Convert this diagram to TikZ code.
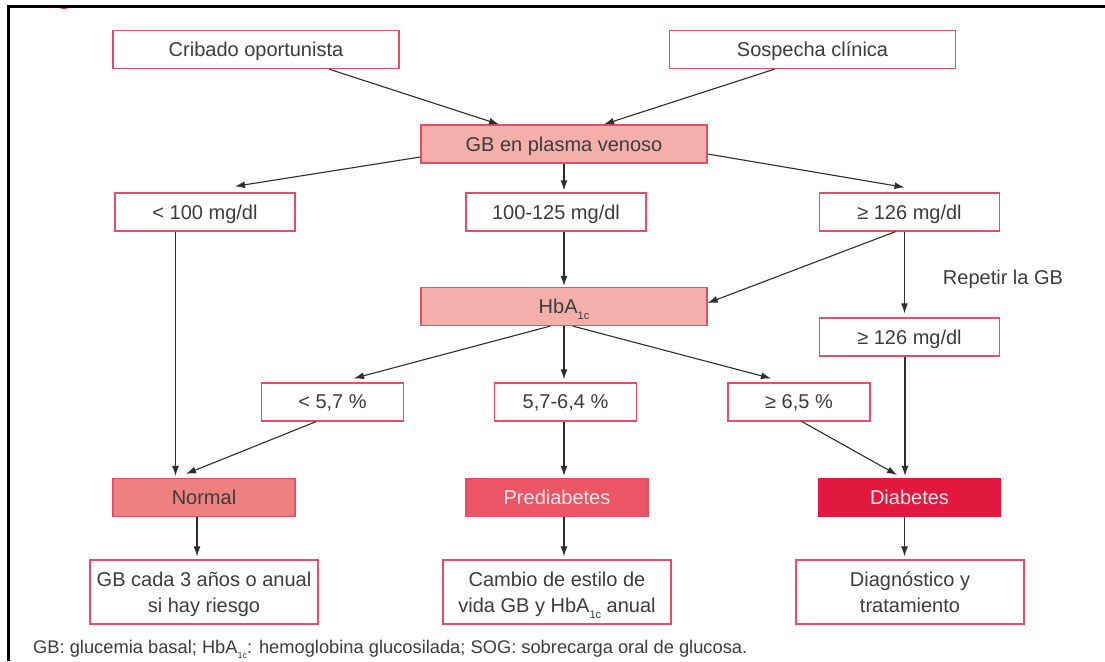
\documentclass[tikz,border=0pt]{standalone}
\usepackage{fontspec}
\setmainfont{Liberation Sans}
\usepackage{xcolor}
\usetikzlibrary{positioning, arrows.meta}

\definecolor{boxred}{HTML}{E84C6B}
\definecolor{lightfill}{HTML}{F4AFAB}
\definecolor{normfill}{HTML}{EF8080}
\definecolor{prefill}{HTML}{EB5565}
\definecolor{diafill}{HTML}{E3183E}
\definecolor{txtgray}{HTML}{3C3C3C}
\definecolor{lighttxt}{HTML}{FCE6EA}
\definecolor{arrgray}{HTML}{2E2E2E}

\newcommand{\hba}[1][11]{HbA\raisebox{-0.3em}{\fontsize{#1}{#1}\selectfont 1c}}

\begin{document}
\begin{tikzpicture}[
  x=1pt, y=-1pt,
  box/.style={
    draw=boxred,
    line width=1.3pt,
    minimum height=38pt,
    minimum width=180pt,
    inner sep=2pt,
    text depth=0pt,
    align=center,
    text=txtgray,
    font=\fontsize{20}{26}\selectfont
  },
  wide/.style={box, minimum width=286pt},
  small/.style={box, minimum width=142pt},
  res/.style={box, minimum width=228pt, minimum height=64pt},
  arr/.style={-{Latex[length=10pt,width=7pt]}, line width=1.1pt, draw=arrgray}
]

\useasboundingbox (0,0) rectangle (1105,661);

% frame of the page
\begin{scope}
  \clip (0,6) rectangle (1105,661);
  \fill[diafill] (64,-4) circle (13);
\end{scope}
\draw[line width=3pt] (8.5,661) -- (8.5,6.5) -- (1105,6.5);

\node[wide] (crib) at (256,49.5) {Cribado oportunista};
\node[wide] (sosp) at (812.5,49.5) {Sospecha clínica};
\node[wide, fill=lightfill] (gb) at (564,144) {GB en plasma venoso};

\node[box] (lo) at (205,212) {< 100 mg/dl};
\node[box] (mid) at (556,212) {100-125 mg/dl};
\node[box] (hi) at (909.5,212) {≥ 126 mg/dl};

\node[wide, fill=lightfill] (hba) at (564,306.5) {\hba};
\node[box] (hi2) at (909.5,337) {≥ 126 mg/dl};
\node[text=txtgray, font=\fontsize{20}{24}\selectfont] (rep) at (1003,279) {Repetir la GB};

\node[small] (a1) at (332.5,402) {< 5,7 \%};
\node[small] (a2) at (565.5,402) {5,7-6,4 \%};
\node[small] (a3) at (799,402) {≥ 6,5 \%};

\node[box, minimum width=182pt, fill=normfill] (normal) at (204,497.5) {Normal};
\node[box, minimum width=182pt, fill=prefill, text=lighttxt] (pre) at (557,497.5) {Prediabetes};
\node[box, minimum width=182pt, fill=diafill, draw=diafill, text=lighttxt] (dia) at (909.5,497.5) {Diabetes};

\node[res] (r1) at (204,592) {GB cada 3 años o anual\\si hay riesgo};
\node[res] (r2) at (557,592) {Cambio de estilo de\\vida GB y \hba\ anual};
\node[res] (r3) at (910,592) {Diagnóstico y\\tratamiento};

\node[anchor=base west, inner sep=0pt, text=txtgray, font=\fontsize{18.3}{21}\selectfont] (foot) at (33,653.5)
  {GB: glucemia basal; \hba[9]: hemoglobina glucosilada; SOG: sobrecarga oral de glucosa.};

% connectors
\draw[arr] ([xshift=73pt]crib.south) -- ([xshift=-65pt]gb.north);
\draw[arr] ([xshift=-38pt]sosp.south) -- ([xshift=40pt]gb.north);
\draw[arr] ([yshift=-13pt]gb.west) -- ([xshift=30pt,yshift=6pt]lo.north);
\draw[arr, shorten >=2pt] (gb.south) -- (gb.south |- mid.north);
\draw[arr] ([yshift=-10pt]gb.east) -- ([xshift=-5pt,yshift=5pt]hi.north);
\draw[arr, shorten >=2pt] ([xshift=-29.5pt]lo.south) -- ([xshift=-28.5pt]normal.north);
\draw[arr, shorten >=1pt] (hba.north |- mid.south) -- (hba.north);
\draw[arr] ([xshift=-14pt]hi.south) -- ([yshift=3.5pt]hba.east);
\draw[arr, shorten >=4pt] ([xshift=-5pt]hi.south) -- ([xshift=-5pt]hi2.north);
\draw[arr] ([xshift=-14pt]hba.south) -- ([xshift=21.5pt,yshift=4pt]a1.north);
\draw[arr, shorten >=3pt] (hba.south) -- (hba.south |- a2.north);
\draw[arr] ([xshift=9pt]hba.south) -- ([xshift=-28pt,yshift=4pt]a3.north);
\draw[arr] ([xshift=-16.5pt]a1.south) -- ([xshift=-18pt,yshift=4pt]normal.north);
\draw[arr, shorten >=2pt] ([xshift=-1.5pt]a2.south) -- ([xshift=7pt]pre.north);
\draw[arr] ([xshift=3pt]a3.south) -- ([xshift=-12.5pt,yshift=3pt]dia.north);
\draw[arr, shorten >=2pt] ([xshift=-4.5pt]hi2.south) -- ([xshift=-4.5pt]dia.north);
\draw[arr, shorten >=3pt] ([xshift=-7pt]normal.south) -- ([xshift=-7pt]r1.north);
\draw[arr, shorten >=3pt] ([xshift=7pt]pre.south) -- ([xshift=7pt]r2.north);
\draw[arr, shorten >=3pt] ([xshift=-5pt]dia.south) -- ([xshift=-5.5pt]r3.north);

\end{tikzpicture}
\end{document}
